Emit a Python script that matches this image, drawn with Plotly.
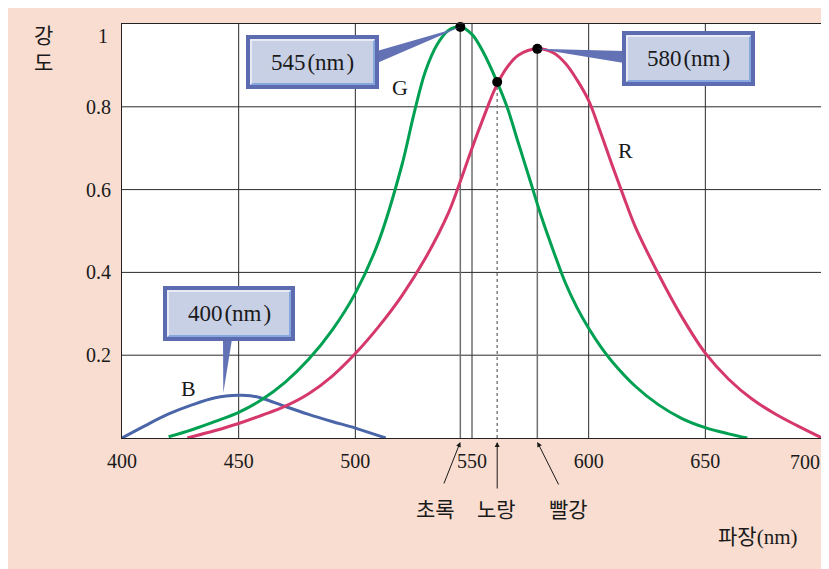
import plotly.graph_objects as go

# ---------------- data ----------------
g_x = [420, 430, 440, 450, 460, 470, 480, 490, 500, 510, 520, 525, 530, 535, 540, 545,
       550, 555, 560, 565, 570, 575, 580, 585, 590, 595, 600, 605, 610, 620, 630, 640, 650, 660, 668]
g_y = [0.003, 0.02, 0.04, 0.062, 0.093, 0.135, 0.19, 0.26, 0.35, 0.475, 0.66, 0.78, 0.885, 0.95, 0.985, 0.993,
       0.975, 0.93, 0.87, 0.80, 0.71, 0.62, 0.53, 0.45, 0.375, 0.315, 0.265, 0.222, 0.185, 0.125, 0.08, 0.047, 0.025, 0.01, 0.0]

r_x = [428, 440, 450, 460, 470, 480, 490, 500, 510, 520, 530, 540, 545, 550, 555, 560, 565, 570,
       578, 585, 590, 595, 600, 605, 610, 615, 620, 630, 640, 650, 660, 670, 680, 690, 700]
r_y = [0.0, 0.018, 0.035, 0.055, 0.077, 0.107, 0.149, 0.204, 0.269, 0.344, 0.434, 0.545, 0.62, 0.70, 0.775, 0.845, 0.895, 0.925,
       0.94, 0.93, 0.905, 0.865, 0.815, 0.74, 0.66, 0.583, 0.51, 0.395, 0.292, 0.205, 0.142, 0.094, 0.058, 0.028, 0.0]

b_x = [400, 410, 420, 430, 440, 450, 455, 460, 470, 480, 490, 500, 513]
b_y = [0.0, 0.03, 0.058, 0.08, 0.097, 0.103, 0.102, 0.096, 0.076, 0.057, 0.04, 0.024, 0.0]

peak_g = (545, 0.993)
peak_r = (578, 0.94)
cross_gr = (560.8, 0.86)

x_ticks = [400, 450, 500, 550, 600, 650, 700]
y_ticks = [0.2, 0.4, 0.6, 0.8]

GREEN = "#00A052"
RED = "#D5386A"
BLUE = "#4A66A8"
BG = "#F8DDD0"
INK = "#1a1a1a"
SERIF = "Liberation Serif"
KR = "Noto Sans CJK KR"

# page-pixel -> data helpers (plot area 700 x 414 px, page offset by body margin)
PX = 300 / 700
PY = 1 / 414

def dx(px):
    return 400 + (px - 122) * PX

def dy(py):
    return (438 - py) * PY

fig = go.Figure()

shapes = []
annotations = []
grid_col = "#2a2a2a"
for xv in [450, 500, 550, 600, 650]:
    shapes.append(dict(type="line", xref="x", yref="y", x0=xv, x1=xv, y0=0, y1=1,
                       line=dict(color=grid_col, width=1), layer="below"))
for yv in y_ticks:
    shapes.append(dict(type="line", xref="x", yref="y", x0=400, x1=700, y0=yv, y1=yv,
                       line=dict(color=grid_col, width=1), layer="below"))
shapes.append(dict(type="line", xref="x", yref="y", x0=peak_g[0], x1=peak_g[0], y0=0, y1=1,
                   line=dict(color="#707070", width=1.5), layer="below"))
shapes.append(dict(type="line", xref="x", yref="y", x0=peak_r[0], x1=peak_r[0], y0=0, y1=peak_r[1],
                   line=dict(color="#707070", width=1.5), layer="below"))
shapes.append(dict(type="line", xref="x", yref="y", x0=cross_gr[0], x1=cross_gr[0], y0=0, y1=cross_gr[1],
                   line=dict(color="#808080", width=1.5, dash="dot"), layer="below"))

# curves
fig.add_trace(go.Scatter(x=b_x, y=b_y, mode="lines", line=dict(color=BLUE, width=3, shape="spline"),
                         hoverinfo="skip", showlegend=False))
fig.add_trace(go.Scatter(x=g_x, y=g_y, mode="lines", line=dict(color=GREEN, width=3, shape="spline"),
                         hoverinfo="skip", showlegend=False))
fig.add_trace(go.Scatter(x=r_x, y=r_y, mode="lines", line=dict(color=RED, width=3, shape="spline"),
                         hoverinfo="skip", showlegend=False))
fig.add_trace(go.Scatter(x=[peak_g[0], cross_gr[0], peak_r[0]], y=[peak_g[1], cross_gr[1], peak_r[1]],
                         mode="markers", marker=dict(color="black", size=10), cliponaxis=False,
                         hoverinfo="skip", showlegend=False))

# callout boxes
BOX_FILL = "#C8D0E6"
BOX_LINE = "#5D6BB1"
WEDGE = "#6272B4"
HI = "#86A8DE"

def callout(x0p, x1p, y0p, y1p, wedge_pts, text):
    pts = " L ".join(f"{a},{b}" for a, b in wedge_pts)
    shapes.append(dict(type="path", xref="x", yref="y", path=f"M {pts} Z",
                       fillcolor=WEDGE, line=dict(width=0)))
    shapes.append(dict(type="rect", xref="x", yref="y", x0=dx(x0p), x1=dx(x1p), y0=dy(y1p), y1=dy(y0p),
                       fillcolor=BOX_FILL, line=dict(color=BOX_LINE, width=4)))
    shapes.append(dict(type="path", xref="x", yref="y",
                       path=f"M {dx(x0p+3)},{dy(y1p-3)} L {dx(x1p-3)},{dy(y1p-3)} L {dx(x1p-3)},{dy(y0p+3)}",
                       line=dict(color=HI, width=2)))
    shapes.append(dict(type="path", xref="x", yref="y",
                       path=f"M {dx(x0p+3)},{dy(y1p-3)} L {dx(x0p+3)},{dy(y0p+3)} L {dx(x1p-3)},{dy(y0p+3)}",
                       line=dict(color="#F2F4FA", width=1.5)))
    annotations.append(dict(x=(dx(x0p) + dx(x1p)) / 2, y=(dy(y0p) + dy(y1p)) / 2, xref="x", yref="y",
                            text=text, showarrow=False, xanchor="center", yanchor="middle",
                            font=dict(family=SERIF, size=23, color=INK)))

callout(248, 377, 37, 87,
        [(dx(377), dy(51)), peak_g, (dx(377), dy(63))], "545\u200a(nm\u200a)")
callout(624, 753, 33, 84,
        [(dx(624), dy(51)), peak_r, (dx(624), dy(63))], "580\u200a(nm\u200a)")
callout(165, 293, 288, 339,
        [(dx(223), dy(339)), (dx(223.3), dy(393)), (dx(232), dy(339))], "400\u200a(nm\u200a)")

# curve labels
for txt, px, py in [("G", 400, 87), ("R", 625, 150), ("B", 188, 388)]:
    annotations.append(dict(x=dx(px), y=dy(py), xref="x", yref="y", text=txt, showarrow=False,
                            xanchor="center", yanchor="middle", font=dict(family=SERIF, size=22, color=INK)))

# "1" tick label (sits slightly below the top edge) and "700" label (pulled inside)
annotations.append(dict(x=0, y=1, xref="paper", yref="y", text="1", showarrow=False,
                        xanchor="right", yanchor="middle", xshift=-12, yshift=-12,
                        font=dict(family=SERIF, size=20, color=INK)))
annotations.append(dict(x=700, y=0, xref="x", yref="paper", text=str(x_ticks[-1]), showarrow=False,
                        xanchor="center", yanchor="middle", xshift=-17, yshift=-24,
                        font=dict(family=SERIF, size=20, color=INK)))

# axis titles
annotations.append(dict(x=(43 - 122) / 700, y=(438 - 47) / 414, xref="paper", yref="paper",
                        text="강<br>도", showarrow=False, xanchor="center", yanchor="middle",
                        font=dict(family=KR, size=21, color=INK)))
annotations.append(dict(x=(757 - 122) / 700, y=(438 - 535) / 414, xref="paper", yref="paper",
                        text="파장<span style='font-family:Liberation Serif'>(nm)</span>", showarrow=False,
                        xanchor="center", yanchor="middle", font=dict(family=KR, size=21, color=INK)))

# color name labels with arrows
for name, xc in [("초록", 435.7), ("노랑", 496), ("빨강", 568)]:
    annotations.append(dict(x=dx(xc), y=(438 - 508) / 414, xref="x", yref="paper", text=name,
                            showarrow=False, xanchor="center", yanchor="middle",
                            font=dict(family=KR, size=21, color=INK)))
for tip_x, ax, ay in [(peak_g[0], -17, 43), (cross_gr[0], 0, 48), (peak_r[0], 22, 44)]:
    annotations.append(dict(x=tip_x, y=-4 / 414, xref="x", yref="paper", text="", showarrow=True,
                            ax=ax, ay=ay, arrowhead=2, arrowsize=1, arrowwidth=1, arrowcolor=INK))

fig.update_layout(
    width=829, height=569, autosize=False,
    margin=dict(l=114, r=15, t=16, b=139),
    paper_bgcolor=BG, plot_bgcolor="white",
    shapes=shapes, annotations=annotations,
    showlegend=False,
    xaxis=dict(range=[400, 700], tickvals=x_ticks[:-1], ticktext=[str(v) for v in x_ticks[:-1]],
               showgrid=False, zeroline=False, showline=True, mirror=True, linecolor="#222", linewidth=1,
               ticks="", ticklabelstandoff=5, tickfont=dict(family=SERIF, size=20, color=INK)),
    yaxis=dict(range=[0, 1], tickvals=y_ticks, ticktext=[f"{v:.1f}" for v in y_ticks],
               showgrid=False, zeroline=False, showline=True, mirror=True, linecolor="#222", linewidth=1,
               ticks="", ticklabelstandoff=6, tickfont=dict(family=SERIF, size=20, color=INK)),
)

fig.write_html("out.html")
